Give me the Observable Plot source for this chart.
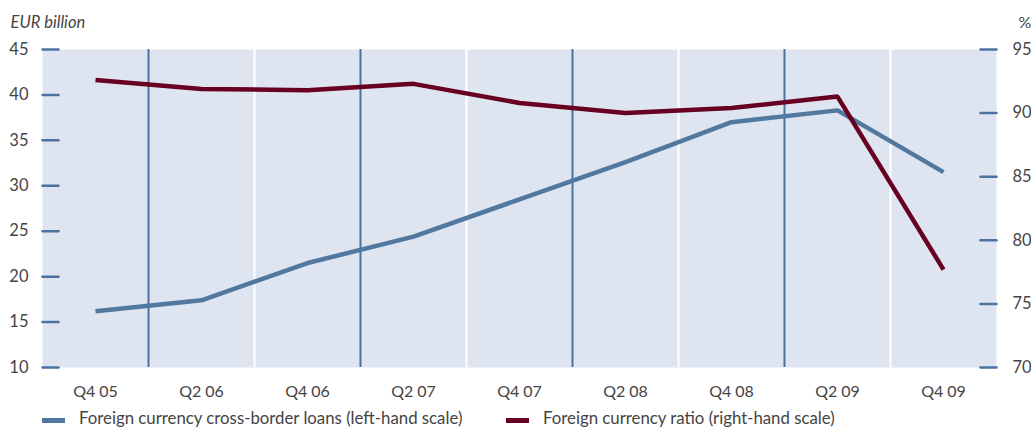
<!DOCTYPE html>
<html>
<head>
<meta charset="utf-8">
<script src="https://cdn.jsdelivr.net/npm/d3@7"></script>
<script src="https://cdn.jsdelivr.net/npm/@observablehq/plot@0.6"></script>
<style>
  body { margin: 0; background: #fff; font-family: Lato, "Open Sans", sans-serif; color: #444; }
  #chart svg { display: block; }
  #legend { position: relative; width: 1031px; height: 30px; }
  .item { position: absolute; top: 0; height: 30px; }
  .sw { position: absolute; left: 0; top: 18px; width: 23px; height: 5px; }
  .lab { position: absolute; left: 37px; top: 8px; white-space: nowrap; font-size: 16.8px; line-height: 20px; color: #444; }
</style>
</head>
<body>
<div id="chart"></div>
<div id="legend"></div>
<script>
const categories = ["Q4 05", "Q2 06", "Q4 06", "Q2 07", "Q4 07", "Q2 08", "Q4 08", "Q2 09", "Q4 09"];
const loans = [16.2, 17.4, 21.5, 24.4, 28.5, 32.6, 37.0, 38.3, 31.5];   // EUR billion, left-hand scale
const ratio = [92.6, 91.9, 91.8, 92.3, 90.8, 90.0, 90.4, 91.3, 77.7];   // %, right-hand scale
const leftTicks = [10, 15, 20, 25, 30, 35, 40, 45];
const rightTicks = [70, 75, 80, 85, 90, 95];
const seriesNames = ["Foreign currency cross-border loans (left-hand scale)", "Foreign currency ratio (right-hand scale)"];
const leftUnit = "EUR billion";
const rightUnit = "%";

const BLUE = "#51789f";
const RED = "#680022";
const RULE = "#4b73a0";
const BG = "#dfe5f0";
const TEXT = "#444444";

// map right-hand values onto the left-hand domain
const toLeft = d3.scaleLinear([70, 95], [10, 45]);

const idx = categories.map((_, i) => i);
const yearBounds = idx.slice(1).filter(i => categories[i].startsWith("Q2")).map(i => i - 0.5);
const midBounds = idx.slice(1).filter(i => categories[i].startsWith("Q4")).map(i => i - 0.5);

const tickShape = { draw(context, l) { context.moveTo(0, 0); context.lineTo(0, -l); } };

const chart = Plot.plot({
  width: 1031,
  height: 400,
  marginLeft: 42,
  marginRight: 35,
  marginTop: 49,
  marginBottom: 33,
  style: { fontFamily: "Lato, 'Open Sans', sans-serif", color: TEXT, background: "#fff" },
  x: { domain: [-0.5, categories.length - 0.5], axis: null },
  y: { domain: [10, 45], axis: null },
  marks: [
    Plot.frame({ fill: BG, stroke: null }),
    Plot.ruleX(midBounds, { stroke: "#ffffff", strokeWidth: 2 }),
    Plot.ruleX(yearBounds, { stroke: RULE, strokeWidth: 2 }),
    Plot.vector(leftTicks, { y: d => d, frameAnchor: "left", length: 16, rotate: 90, anchor: "start", shape: tickShape, stroke: RULE, strokeWidth: 2.5 }),
    Plot.vector(rightTicks, { y: d => toLeft(d), frameAnchor: "right", length: 16, rotate: -90, anchor: "start", shape: tickShape, stroke: RULE, strokeWidth: 2.5 }),
    Plot.axisY(leftTicks, { anchor: "left", tickSize: 0, tickPadding: 14, fontSize: 16.5, fill: TEXT, label: null }),
    Plot.axisY(rightTicks.map(d => toLeft(d)), { anchor: "right", tickSize: 0, tickPadding: 16, fontSize: 16.5, fill: TEXT, label: null, tickFormat: d => String(Math.round(toLeft.invert(d))) }),
    Plot.axisX(idx, { anchor: "bottom", tickSize: 0, tickPadding: 18, fontSize: 16, fill: TEXT, label: null, tickFormat: i => categories[i] }),
    Plot.text([leftUnit], { frameAnchor: "top-left", dx: -32, dy: -22, textAnchor: "start", lineAnchor: "bottom", fontSize: 16.5, fontStyle: "italic", fill: TEXT }),
    Plot.text([rightUnit], { frameAnchor: "top-right", dx: 22, dy: -22, textAnchor: "start", lineAnchor: "bottom", fontSize: 16, fill: TEXT }),
    Plot.line(loans, { x: (d, i) => i, y: d => d, stroke: BLUE, strokeWidth: 4.5, strokeLinejoin: "miter", strokeLinecap: "butt" }),
    Plot.line(ratio, { x: (d, i) => i, y: d => toLeft(d), stroke: RED, strokeWidth: 4.5, strokeLinejoin: "miter", strokeLinecap: "butt" })
  ]
});
document.getElementById("chart").appendChild(chart);

const legend = document.getElementById("legend");
const legendItems = [
  { name: seriesNames[0], color: BLUE, left: 42 },
  { name: seriesNames[1], color: RED, left: 506 }
];
for (const it of legendItems) {
  const item = document.createElement("div");
  item.className = "item";
  item.style.left = it.left + "px";
  const sw = document.createElement("div");
  sw.className = "sw";
  sw.style.background = it.color;
  const lab = document.createElement("span");
  lab.className = "lab";
  lab.textContent = it.name;
  item.appendChild(sw);
  item.appendChild(lab);
  legend.appendChild(item);
}
</script>
</body>
</html>
